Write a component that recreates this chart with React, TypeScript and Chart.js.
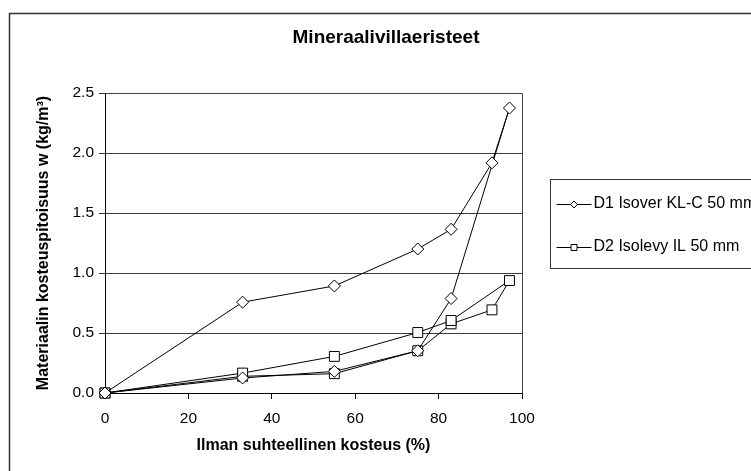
import React, { useEffect, useRef } from 'react';
import { Chart, registerables } from 'chart.js';

Chart.register(...registerables);

const chartTitle = 'Mineraalivillaeristeet';
const xAxisTitle = 'Ilman suhteellinen kosteus (%)';
const yAxisTitle = 'Materiaalin kosteuspitoisuus w (kg/m³)';
const seriesNames = ['D1 Isover KL-C 50 mm', 'D2 Isolevy IL 50 mm'];

// D1 (diamonds): absorption branch then desorption branch
const d1X = [0, 33, 55, 75, 83, 97, 92.8, 83, 75, 55, 33, 0];
const d1Y = [0, 0.125, 0.18, 0.352, 0.787, 2.375, 1.918, 1.364, 1.2, 0.892, 0.757, 0];

// D2 (squares)
const d2X = [0, 33, 55, 75, 83, 92.8, 97, 83, 75, 55, 33, 0];
const d2Y = [0, 0.139, 0.161, 0.352, 0.576, 0.693, 0.937, 0.604, 0.504, 0.305, 0.166, 0];

const xTicks = [0, 20, 40, 60, 80, 100];
const yTicks = [0, 0.5, 1.0, 1.5, 2.0, 2.5];

const FONT = "'Liberation Sans', Arial, sans-serif";

function toPoints(xs: number[], ys: number[]) {
  return xs.map((x, i) => ({ x, y: ys[i] }));
}

function drawMarker(ctx: CanvasRenderingContext2D, style: string, x: number, y: number, r: number) {
  ctx.beginPath();
  if (style === 'rectRot') {
    ctx.moveTo(x, y - r);
    ctx.lineTo(x + r, y);
    ctx.lineTo(x, y + r);
    ctx.lineTo(x - r, y);
    ctx.closePath();
  } else {
    ctx.rect(x - r, y - r, 2 * r, 2 * r);
  }
  ctx.fillStyle = '#fff';
  ctx.fill();
  ctx.strokeStyle = '#000';
  ctx.lineWidth = 1;
  ctx.stroke();
}

const framePlugin = {
  id: 'frame',
  beforeDraw(chart: any) {
    const { ctx } = chart;
    ctx.save();
    ctx.strokeStyle = '#333';
    ctx.lineWidth = 1.5;
    ctx.strokeRect(9.5, 13.5, 754, 480);
    ctx.restore();
  },
  beforeDatasetsDraw(chart: any) {
    const { ctx, chartArea } = chart;
    ctx.save();
    ctx.strokeStyle = '#444';
    ctx.lineWidth = 1;
    ctx.beginPath();
    ctx.moveTo(Math.round(chartArea.left) + 0.5, Math.round(chartArea.top) + 0.5);
    ctx.lineTo(Math.round(chartArea.right) + 0.5, Math.round(chartArea.top) + 0.5);
    ctx.lineTo(Math.round(chartArea.right) + 0.5, Math.round(chartArea.bottom) + 0.5);
    ctx.stroke();
    ctx.restore();
  },
  afterDraw(chart: any) {
    const { ctx, chartArea } = chart;
    const boxLeft = Math.round(chartArea.right) + 28.5;
    ctx.save();
    ctx.strokeStyle = '#333';
    ctx.lineWidth = 1;
    ctx.strokeRect(boxLeft, 179.5, 240, 89);
    const rows = [204, 247];
    const sampleStart = boxLeft + 6;
    const sampleEnd = boxLeft + 41;
    chart.data.datasets.forEach((ds: any, i: number) => {
      const y = rows[i];
      ctx.beginPath();
      ctx.strokeStyle = '#000';
      ctx.lineWidth = 1;
      ctx.moveTo(sampleStart, y + 0.5);
      ctx.lineTo(sampleEnd, y + 0.5);
      ctx.stroke();
      drawMarker(ctx, ds.pointStyle, (sampleStart + sampleEnd) / 2, y + 0.5, ds.pointStyle === 'rectRot' ? 3.5 : 3);
      ctx.fillStyle = '#000';
      ctx.font = `16px ${FONT}`;
      ctx.textBaseline = 'middle';
      ctx.textAlign = 'left';
      ctx.fillText(ds.label, sampleEnd + 2, y);
    });
    ctx.restore();
  },
};

export default function App() {
  const canvasRef = useRef<HTMLCanvasElement | null>(null);

  useEffect(() => {
    const canvas = canvasRef.current;
    if (!canvas) return;
    Chart.defaults.color = '#000';
    Chart.defaults.font.family = FONT;
    const chart = new Chart(canvas, {
      type: 'line',
      data: {
        datasets: [
          {
            label: seriesNames[0],
            data: toPoints(d1X, d1Y),
            borderColor: '#000',
            borderWidth: 1,
            pointStyle: 'rectRot',
            pointRadius: 6,
            pointHoverRadius: 6,
            pointBackgroundColor: '#fff',
            pointBorderColor: '#000',
            pointBorderWidth: 1,
            tension: 0,
            fill: false,
            clip: false,
          },
          {
            label: seriesNames[1],
            data: toPoints(d2X, d2Y),
            borderColor: '#000',
            borderWidth: 1,
            pointStyle: 'rect',
            pointRadius: 7,
            pointHoverRadius: 7,
            pointBackgroundColor: '#fff',
            pointBorderColor: '#000',
            pointBorderWidth: 1,
            tension: 0,
            fill: false,
            clip: false,
          },
        ],
      },
      options: {
        responsive: false,
        animation: false,
        events: [],
        layout: { padding: 0 },
        plugins: {
          legend: { display: false },
          tooltip: { enabled: false },
          title: {
            display: true,
            text: chartTitle,
            color: '#000',
            font: { size: 19, weight: 'bold', family: FONT, lineHeight: 1.2 },
            padding: { top: 26, bottom: 44.2 },
          },
        },
        scales: {
          x: {
            type: 'linear',
            position: 'bottom',
            min: xTicks[0],
            max: xTicks[xTicks.length - 1],
            afterBuildTicks: (s: any) => {
              s.ticks = xTicks.map((v) => ({ value: v }));
            },
            afterFit: (s: any) => {
              s.height = 78;
            },
            grid: {
              display: true,
              drawOnChartArea: false,
              drawTicks: true,
              tickLength: 6,
              color: '#000',
            },
            border: { display: true, color: '#000', width: 1 },
            ticks: {
              color: '#000',
              padding: 10,
              maxRotation: 0,
              font: { size: 15.5, family: FONT },
            },
            title: {
              display: true,
              text: xAxisTitle,
              color: '#000',
              font: { size: 16, weight: 'bold', family: FONT, lineHeight: 1.2 },
              padding: { top: 0, bottom: 15.4 },
            },
          },
          y: {
            type: 'linear',
            position: 'left',
            min: yTicks[0],
            max: yTicks[yTicks.length - 1],
            afterBuildTicks: (s: any) => {
              s.ticks = yTicks.map((v) => ({ value: v }));
            },
            afterFit: (s: any) => {
              s.width = 105;
            },
            grid: {
              display: true,
              drawOnChartArea: true,
              drawTicks: true,
              tickLength: 6,
              color: '#3a3a3a',
            },
            border: { display: true, color: '#000', width: 1 },
            ticks: {
              color: '#000',
              padding: 5,
              font: { size: 15.5, family: FONT },
              callback: (v: any) => Number(v).toFixed(1),
            },
            title: {
              display: true,
              text: yAxisTitle,
              color: '#000',
              font: { size: 16, weight: 'bold', family: FONT, lineHeight: 1.2 },
              padding: { top: 34, bottom: 0 },
            },
          },
          side: {
            type: 'linear',
            position: 'right',
            display: true,
            grid: { display: false },
            border: { display: false },
            ticks: { display: false },
            afterFit: (s: any) => {
              s.width = 250;
            },
          },
        },
      },
      plugins: [framePlugin],
    } as any);
    return () => chart.destroy();
  }, []);

  return (
    <div
      style={{
        position: 'fixed',
        left: 0,
        top: 0,
        width: 751,
        height: 471,
        overflow: 'hidden',
        background: '#fff',
      }}
    >
      <canvas
        ref={canvasRef}
        width={772}
        height={471}
        style={{ position: 'absolute', left: 0, top: 0, width: 772, height: 471 }}
      />
    </div>
  );
}
